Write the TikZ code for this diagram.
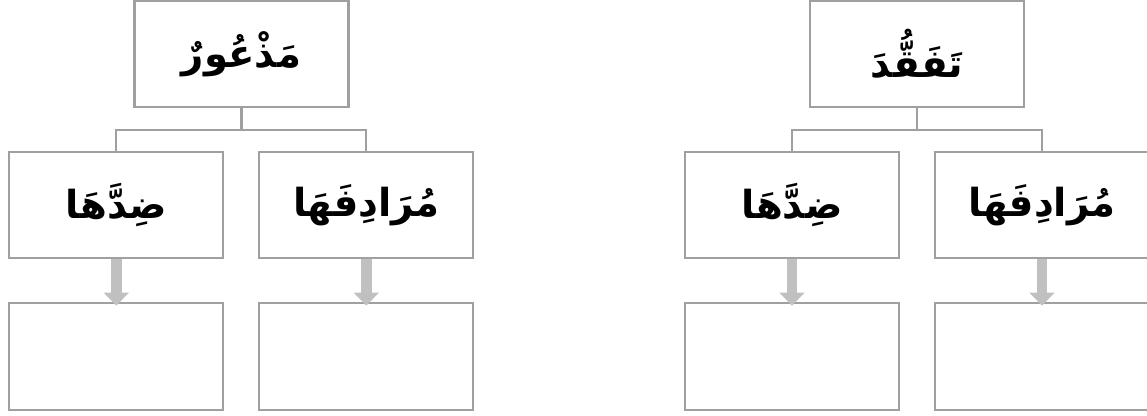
\documentclass[tikz,border=0pt]{standalone}
\usepackage{fontspec}
\usepackage{tikz}
\usetikzlibrary{arrows.meta}
\newfontfamily\arabicfont[Script=Arabic]{DejaVu Sans}
\TeXXeTstate=1
\definecolor{boxgray}{RGB}{160,160,160}
\definecolor{arrowgray}{RGB}{192,192,192}

\begin{document}
\begin{tikzpicture}[x=0.02cm,y=-0.02cm,
	box/.style={draw=boxgray,line width=1.2pt,minimum width=4.28cm,minimum height=2.13cm,inner sep=0pt,font=\arabicfont\bfseries\fontsize{22}{26}\selectfont},
	down/.style={color=arrowgray,line width=6.2pt,shorten >=-2pt,-{Triangle[length=7.5pt,width=14pt]}}]
	\useasboundingbox (0,0) rectangle (1147,416);

	\node[box] (w1) at (241.5,54) {\beginR مَذْعُورٌ\endR};
	\node[box] (d1) at (116.3,205) {\beginR ضِدَّهَا\endR};
	\node[box] (m1) at (366.3,205) {\beginR مُرَادِفَهَا\endR};
	\node[box] (dd1) at (116.3,356.5) {};
	\node[box] (mm1) at (366.3,356.5) {};

	\node[box] (w2) at (917.2,54) {\beginR تَفَقُّدَ\endR};
	\node[box] (d2) at (792,205) {\beginR ضِدَّهَا\endR};
	\node[box] (m2) at (1042,205) {\beginR مُرَادِفَهَا\endR};
	\node[box] (dd2) at (792,356.5) {};
	\node[box] (mm2) at (1042,356.5) {};

	\draw[draw=boxgray,line width=1.2pt]
	(w1.south) -- ++(0,22) -| (d1.north)
	(w1.south) -- ++(0,22) -| (m1.north)
	(w2.south) -- ++(0,22) -| (d2.north)
	(w2.south) -- ++(0,22) -| (m2.north);

	\path [down]
	(d1) edge (dd1)
	(m1) edge (mm1)
	(d2) edge (dd2)
	(m2) edge (mm2);
\end{tikzpicture}
\end{document}
